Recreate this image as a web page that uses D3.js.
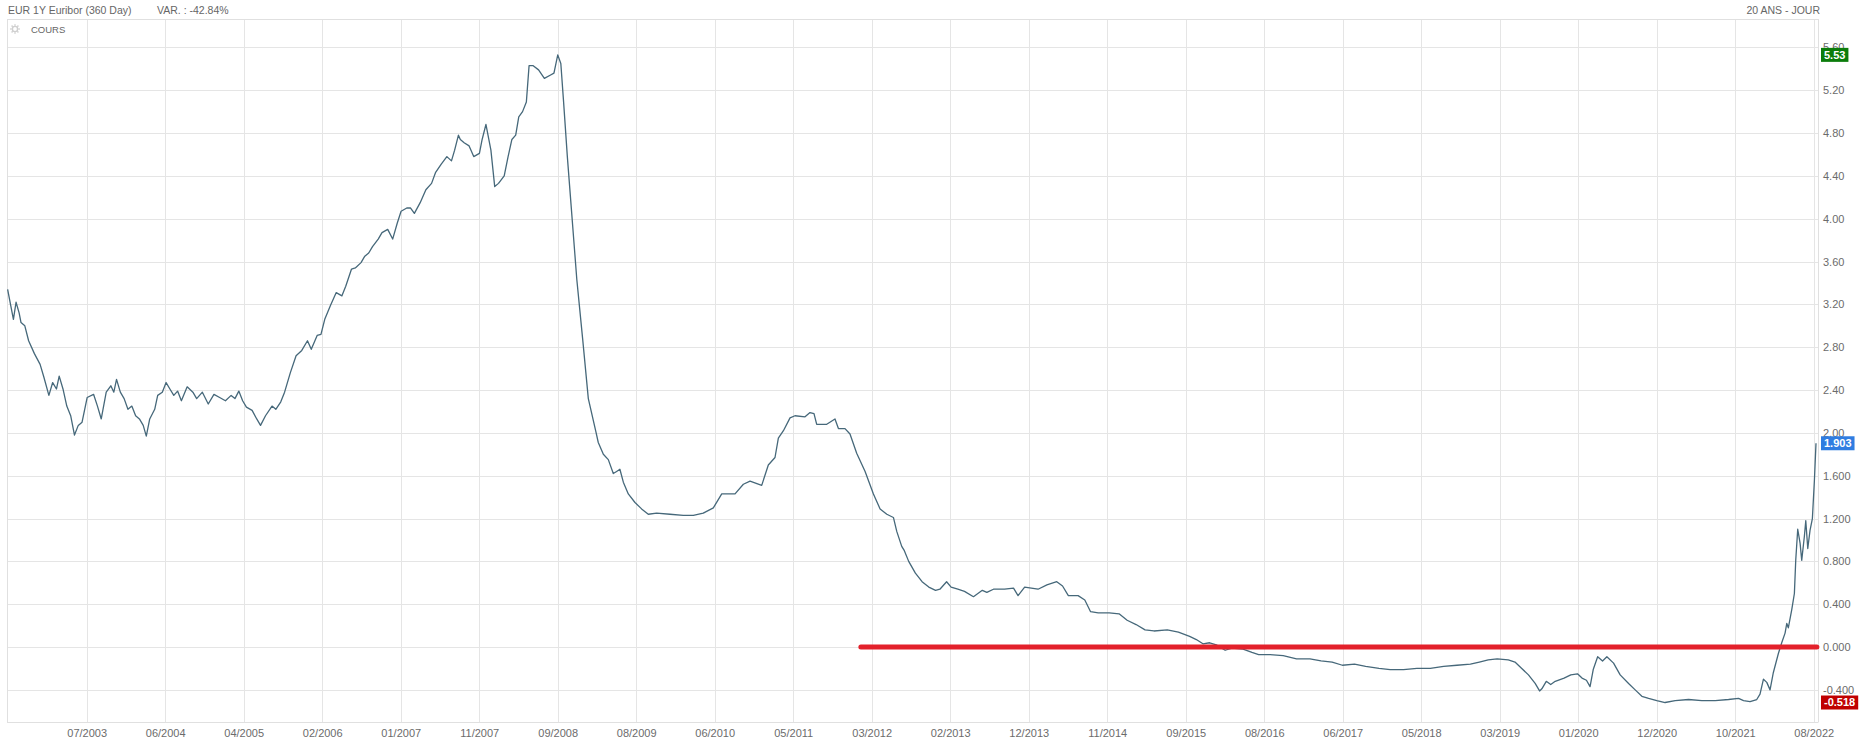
<!DOCTYPE html>
<html><head><meta charset="utf-8">
<script src="https://cdn.jsdelivr.net/npm/d3@7"></script>
<style>
html,body{margin:0;padding:0;background:#fff;}
svg{display:block;}
text{font-family:"Liberation Sans",Arial,Helvetica,sans-serif;}
</style>
</head><body>
<svg id="chart" width="1860" height="745"></svg>
<script>
// ---------- DATA ----------
const years = [
2002.657,2002.691,2002.721,2002.750,2002.784,2002.805,2002.847,2002.889,2002.953,2003.016,
2003.058,2003.113,2003.155,2003.197,2003.227,2003.269,2003.311,2003.354,2003.396,2003.438,
2003.480,2003.536,2003.607,2003.650,2003.692,2003.747,2003.798,2003.831,2003.861,2003.903,
2003.945,2003.987,2004.030,2004.072,2004.114,2004.156,2004.190,2004.228,2004.283,2004.316,
2004.367,2004.409,2004.451,2004.494,2004.536,2004.578,2004.642,2004.705,2004.747,2004.810,
2004.875,2004.938,2005.001,2005.065,2005.128,2005.170,2005.213,2005.255,2005.297,2005.360,
2005.411,2005.453,2005.508,2005.580,2005.622,2005.677,2005.719,2005.782,2005.846,2005.909,
2005.972,2006.014,2006.079,2006.121,2006.163,2006.226,2006.290,2006.353,2006.395,2006.459,
2006.501,2006.564,2006.606,2006.649,2006.691,2006.754,2006.796,2006.859,2006.914,2006.965,
2007.007,2007.070,2007.112,2007.154,2007.218,2007.281,2007.344,2007.387,2007.451,2007.513,
2007.564,2007.599,2007.641,2007.662,2007.704,2007.759,2007.810,2007.873,2007.903,2007.945,
2008.000,2008.042,2008.084,2008.147,2008.190,2008.232,2008.274,2008.308,2008.350,2008.392,
2008.422,2008.464,2008.527,2008.591,2008.655,2008.697,2008.739,2008.773,2008.802,2008.845,
2008.887,2008.950,2009.014,2009.077,2009.161,2009.187,2009.243,2009.298,2009.353,2009.390,
2009.426,2009.464,2009.519,2009.593,2009.666,2009.740,2009.832,2009.980,2010.127,2010.238,
2010.348,2010.459,2010.552,2010.607,2010.699,2010.791,2010.865,2010.994,2011.067,2011.141,
2011.178,2011.234,2011.307,2011.362,2011.473,2011.528,2011.572,2011.602,2011.713,2011.804,
2011.842,2011.915,2011.970,2012.044,2012.137,2012.229,2012.303,2012.377,2012.450,2012.487,
2012.542,2012.571,2012.619,2012.693,2012.767,2012.841,2012.916,2012.964,2013.038,2013.088,
2013.162,2013.236,2013.335,2013.433,2013.483,2013.556,2013.679,2013.778,2013.828,2013.901,
2013.975,2014.049,2014.147,2014.256,2014.320,2014.384,2014.492,2014.566,2014.630,2014.714,
2014.837,2014.945,2015.034,2015.133,2015.232,2015.330,2015.478,2015.601,2015.725,2015.799,
2015.872,2015.946,2016.020,2016.118,2016.192,2016.315,2016.414,2016.488,2016.611,2016.759,
2016.907,2017.055,2017.178,2017.301,2017.414,2017.548,2017.671,2017.819,2017.942,2018.090,
2018.238,2018.386,2018.533,2018.681,2018.829,2018.928,2019.026,2019.125,2019.248,2019.322,
2019.397,2019.471,2019.545,2019.594,2019.619,2019.668,2019.717,2019.767,2019.865,2019.939,
2020.013,2020.063,2020.112,2020.152,2020.187,2020.236,2020.290,2020.338,2020.412,2020.485,
2020.578,2020.651,2020.725,2020.799,2020.890,2020.982,2021.093,2021.241,2021.388,2021.535,
2021.683,2021.794,2021.849,2021.921,2021.995,2022.031,2022.069,2022.106,2022.142,2022.178,
2022.234,2022.271,2022.308,2022.327,2022.344,2022.382,2022.411,2022.426,2022.448,2022.474,
2022.492,2022.521,2022.537,2022.559,2022.584,2022.610,2022.632,2022.650
];
const rates = [
3.34,3.19,3.06,3.22,3.12,3.03,3.00,2.86,2.74,2.64,
2.52,2.35,2.47,2.41,2.53,2.41,2.25,2.16,1.98,2.07,
2.10,2.33,2.36,2.25,2.13,2.38,2.44,2.38,2.50,2.38,
2.32,2.22,2.25,2.16,2.13,2.07,1.97,2.13,2.22,2.35,
2.38,2.47,2.41,2.35,2.39,2.30,2.43,2.38,2.32,2.38,
2.27,2.36,2.33,2.30,2.35,2.32,2.39,2.30,2.24,2.21,
2.13,2.07,2.16,2.25,2.22,2.29,2.38,2.56,2.72,2.77,
2.86,2.78,2.91,2.92,3.06,3.19,3.31,3.28,3.37,3.53,
3.54,3.59,3.65,3.68,3.74,3.81,3.87,3.90,3.81,3.96,
4.07,4.10,4.10,4.05,4.15,4.27,4.33,4.43,4.51,4.58,
4.54,4.64,4.78,4.74,4.71,4.68,4.58,4.61,4.74,4.88,
4.64,4.30,4.33,4.40,4.58,4.74,4.78,4.95,5.00,5.09,
5.43,5.43,5.39,5.31,5.34,5.36,5.53,5.45,5.11,4.58,
4.12,3.43,2.88,2.32,2.01,1.91,1.80,1.75,1.62,1.64,
1.66,1.54,1.43,1.35,1.29,1.24,1.25,1.24,1.23,1.23,
1.25,1.30,1.43,1.43,1.43,1.52,1.55,1.51,1.70,1.77,
1.95,2.02,2.14,2.16,2.15,2.19,2.18,2.08,2.08,2.13,
2.04,2.04,1.99,1.81,1.64,1.43,1.29,1.24,1.21,1.08,
0.94,0.90,0.80,0.69,0.61,0.56,0.53,0.54,0.61,0.56,
0.54,0.52,0.47,0.53,0.51,0.54,0.54,0.55,0.48,0.56,
0.55,0.54,0.58,0.61,0.57,0.48,0.48,0.44,0.33,0.32,
0.32,0.31,0.25,0.21,0.16,0.15,0.16,0.14,0.10,0.07,
0.03,0.04,0.02,-0.03,-0.01,-0.02,-0.05,-0.07,-0.07,-0.08,
-0.11,-0.11,-0.13,-0.14,-0.17,-0.16,-0.18,-0.20,-0.21,-0.21,
-0.20,-0.20,-0.18,-0.17,-0.16,-0.14,-0.12,-0.11,-0.12,-0.14,
-0.20,-0.26,-0.34,-0.41,-0.39,-0.32,-0.35,-0.32,-0.29,-0.26,
-0.25,-0.29,-0.31,-0.37,-0.21,-0.09,-0.13,-0.09,-0.15,-0.26,
-0.34,-0.40,-0.46,-0.48,-0.50,-0.518,-0.50,-0.49,-0.50,-0.50,
-0.49,-0.48,-0.50,-0.51,-0.49,-0.44,-0.30,-0.33,-0.40,-0.24,
-0.06,0.04,0.13,0.22,0.18,0.35,0.50,0.81,1.10,0.97,
0.81,1.03,1.18,0.92,1.09,1.20,1.55,1.903
];

const xTickYears = [2003.531,2004.399,2005.267,2006.135,2007.003,2007.871,2008.738,2009.606,
  2010.474,2011.342,2012.210,2013.078,2013.946,2014.814,2015.682,2016.550,2017.417,2018.285,
  2019.153,2020.021,2020.889,2021.757,2022.625];
const xTickLabels = ["07/2003","06/2004","04/2005","02/2006","01/2007","11/2007","09/2008","08/2009",
  "06/2010","05/2011","03/2012","02/2013","12/2013","11/2014","09/2015","08/2016","06/2017","05/2018",
  "03/2019","01/2020","12/2020","10/2021","08/2022"];

const yTickValues = [5.6,5.2,4.8,4.4,4.0,3.6,3.2,2.8,2.4,2.0,1.6,1.2,0.8,0.4,0.0,-0.4];
const yTickLabels = ["5.60","5.20","4.80","4.40","4.00","3.60","3.20","2.80","2.40","2.00",
  "1.600","1.200","0.800","0.400","0.000","-0.400"];

const tagValues = [5.53, 1.903, -0.518];
const tagLabels = ["5.53", "1.903", "-0.518"];

const refYears = [2012.09, 2022.66];
const refValues = [0, 0];

const titleText = "EUR 1Y Euribor (360 Day)";
const varText = "VAR. : -42.84%";
const periodText = "20 ANS - JOUR";
const seriesName = "COURS";

// ---------- LAYOUT / STYLE ----------
const W = 1860, H = 745;
const L = 7, R = 1816, T = 19, B = 722;
const tagColors = ["#0b7c0b", "#2f7de1", "#c00000"];
const gridColor = "#e5e5e5";
const lineColor = "#46687a";

const svg = d3.select("#chart");

const x = d3.scaleLinear().domain([2002.65, 2022.65]).range([L, R]);
const y = d3.scaleLinear().domain([-0.70, 5.865]).range([B, T]);

// grid
const grid = svg.append("g");
grid.selectAll("line.h").data(yTickValues).join("line")
  .attr("x1", L).attr("x2", R + 2.5)
  .attr("y1", d => Math.round(y(d)) + 0.5).attr("y2", d => Math.round(y(d)) + 0.5)
  .attr("stroke", gridColor).attr("stroke-width", 1);
grid.selectAll("line.v").data(xTickYears).join("line")
  .attr("x1", d => Math.round(x(d)) + 0.5).attr("x2", d => Math.round(x(d)) + 0.5)
  .attr("y1", T).attr("y2", B)
  .attr("stroke", gridColor).attr("stroke-width", 1);

// frame
const frame = svg.append("g").attr("stroke", "#e0e0e0").attr("fill", "none");
frame.append("line").attr("x1", L + 0.5).attr("x2", L + 0.5).attr("y1", T).attr("y2", B);
frame.append("line").attr("x1", L).attr("x2", R + 2.5).attr("y1", T + 0.5).attr("y2", T + 0.5);
frame.append("line").attr("x1", L).attr("x2", R + 2.5).attr("y1", B + 0.5).attr("y2", B + 0.5);
frame.append("line").attr("x1", R + 2.5).attr("x2", R + 2.5).attr("y1", T).attr("y2", B);

// x axis labels
const xAxis = d3.axisBottom(x).tickValues(xTickYears)
  .tickFormat((d, i) => xTickLabels[i]).tickSize(0).tickPadding(0);
const gx = svg.append("g").attr("transform", `translate(0,${B})`).call(xAxis);
gx.select(".domain").remove();
gx.selectAll("text").attr("font-size", 11).attr("fill", "#6b6b6b")
  .attr("font-family", '"Liberation Sans",Arial,sans-serif').attr("dy", "0").attr("y", 15);

// y axis labels
const yAxis = d3.axisRight(y).tickValues(yTickValues)
  .tickFormat((d, i) => yTickLabels[i]).tickSize(0).tickPadding(0);
const gy = svg.append("g").attr("transform", `translate(${R + 7},0)`).call(yAxis);
gy.select(".domain").remove();
gy.selectAll("text").attr("font-size", 11).attr("fill", "#6b6b6b")
  .attr("font-family", '"Liberation Sans",Arial,sans-serif');

// series line
const pts = years.map((d, i) => [d, rates[i]]);
svg.append("path").datum(pts)
  .attr("fill", "none").attr("stroke", lineColor).attr("stroke-width", 1.3)
  .attr("stroke-linejoin", "round")
  .attr("d", d3.line().x(d => x(d[0])).y(d => y(d[1])));

// red reference line
svg.append("path").datum(refYears.map((d, i) => [d, refValues[i]]))
  .attr("fill", "none").attr("stroke", "#e3212b").attr("stroke-width", 5)
  .attr("stroke-linecap", "round")
  .attr("d", d3.line().x(d => x(d[0])).y(d => y(d[1])));

// value tags
const tags = svg.append("g");
tagValues.forEach((v, i) => {
  const g = tags.append("g").attr("transform", `translate(${R + 5},${y(v)})`);
  const t = g.append("text").text(tagLabels[i]).attr("x", 3).attr("y", 0)
    .attr("dy", "0.36em").attr("font-size", 11).attr("font-weight", "bold").attr("fill", "#fff");
  const w = t.node().getComputedTextLength();
  g.insert("rect", "text").attr("x", 0).attr("y", -7).attr("width", w + 6).attr("height", 14)
    .attr("fill", tagColors[i]);
});

// header
svg.append("text").attr("x", 8).attr("y", 14).attr("font-size", 10.5).attr("fill", "#666").text(titleText);
svg.append("text").attr("x", 157).attr("y", 14).attr("font-size", 10.5).attr("fill", "#666").text(varText);
svg.append("text").attr("x", 1820).attr("y", 14).attr("font-size", 10.5).attr("fill", "#666")
  .attr("text-anchor", "end").text(periodText);

// series legend with gear icon
const gear = svg.append("g").attr("transform", "translate(15,29)").attr("stroke", "#cfcfcf").attr("fill", "none");
gear.append("circle").attr("r", 2.6).attr("stroke-width", 1.4);
d3.range(8).forEach(k => {
  const a = k * Math.PI / 4;
  gear.append("line").attr("x1", Math.cos(a) * 3.3).attr("y1", Math.sin(a) * 3.3)
    .attr("x2", Math.cos(a) * 4.8).attr("y2", Math.sin(a) * 4.8).attr("stroke-width", 1.4);
});
svg.append("text").attr("x", 31).attr("y", 32.5).attr("font-size", 9.5).attr("fill", "#666").text(seriesName);
</script>
</body></html>
